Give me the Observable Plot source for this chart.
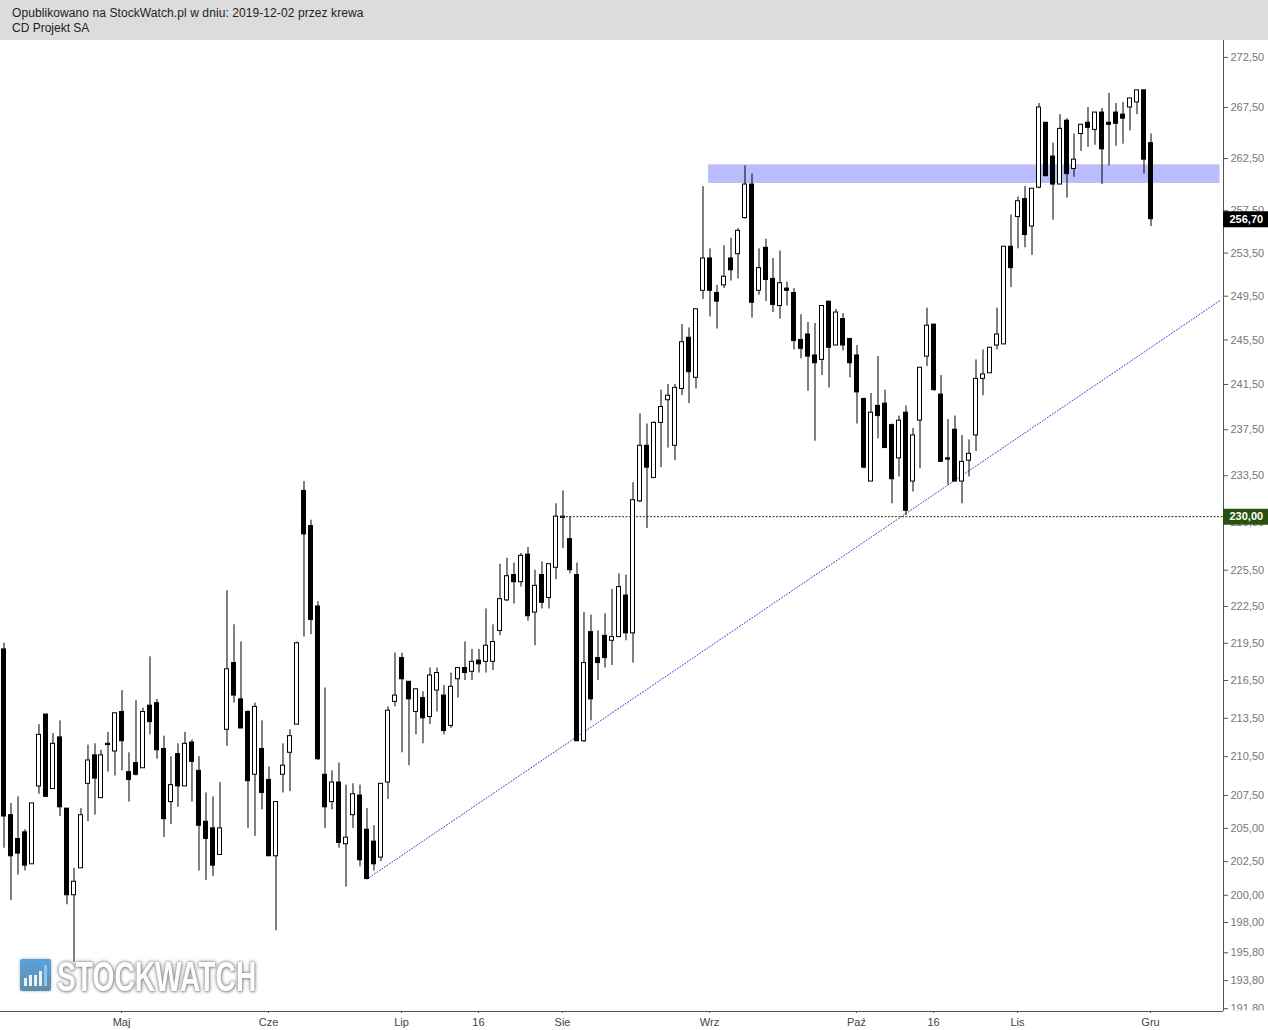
<!DOCTYPE html>
<html lang="pl">
<head>
<meta charset="utf-8">
<script src="https://cdn.jsdelivr.net/npm/d3@7"></script>
<script src="https://cdn.jsdelivr.net/npm/@observablehq/plot@0.6"></script>
<style>
html,body{margin:0;padding:0;background:#fff;overflow:hidden}
#wrap{position:relative;width:1268px;height:1030px;font-family:"Liberation Sans",Arial,sans-serif}
#head{height:40px;background:#dcdcdc;color:#222;font-size:12px;line-height:15px;padding-left:12px;box-sizing:border-box;padding-top:6px}
#head span{letter-spacing:.085px}
#chart svg{display:block}
#logo{position:absolute;left:20px;top:958px;width:240px;height:36px}
#logo .ico{position:absolute;left:0;top:1px;width:31px;height:32px;border-radius:2px;background:linear-gradient(#58a2dc,#5f8ca8);box-shadow:0 0 3px #aaa;filter:blur(.5px);display:flex;align-items:flex-end;justify-content:center;gap:2px;padding-bottom:5px;box-sizing:border-box}
#logo .ico i{display:block;width:3px;background:#e9f2f8}
#logo .txt{position:absolute;left:37px;top:-5px;font:bold 43px/46px "Liberation Sans",Arial,sans-serif;color:#fff;text-shadow:0 0 3px #888,0 0 5px #999,1px 1px 3px #aaa;transform:scaleX(.655);transform-origin:left top;white-space:nowrap;filter:blur(.4px)}
</style>
</head>
<body>
<div id="wrap">
<div id="head"><span>Opublikowano na StockWatch.pl w dniu: 2019-12-02 przez krewa</span><br>CD Projekt SA</div>
<div id="chart"></div>
<div id="logo"><div class="ico"><i style="height:8px"></i><i style="height:11px"></i><i style="height:11px"></i><i style="height:15px"></i><i style="height:21px;background:#8fc4ea"></i></div><div class="txt">STOCKWATCH</div></div>
</div>
<script>
const opens = [219.0,206.0,204.2,204.7,202.3,208.2,213.8,208.0,212.0,206.5,
200.0,202.0,208.4,210.6,207.3,211.5,210.9,214.0,209.3,210.0,
209.6,214.5,214.7,211.1,207.0,210.7,208.2,211.6,209.4,205.5,
205.0,203.0,212.6,217.9,215.0,214.0,209.1,211.1,208.7,202.9,
209.1,210.8,213.0,232.2,229.2,222.5,209.1,207.0,208.5,203.8,
206.0,207.5,204.9,204.0,202.8,208.5,214.8,218.3,216.4,214.0,
215.1,213.6,215.7,215.3,212.9,216.6,217.5,217.2,218.1,218.0,
218.0,220.5,223.0,225.1,224.5,226.8,222.0,225.1,223.2,225.7,
229.9,228.1,225.1,211.7,220.4,218.3,220.1,219.7,220.0,223.4,
220.3,231.3,236.1,233.3,238.1,240.1,236.1,241.1,245.7,242.1,
250.0,253.0,249.8,250.5,253.0,253.4,256.8,260.0,250.0,254.0,
251.1,248.6,250.2,249.8,245.5,246.0,244.1,243.7,249.0,245.0,
247.4,245.6,244.1,240.2,233.0,239.6,239.8,237.9,235.0,239.0,
233.0,238.3,244.0,246.9,240.6,235.0,237.5,233.0,234.8,237.0,
242.0,242.5,245.0,245.1,254.1,256.9,258.6,256.0,259.7,266.0,
262.7,260.0,266.2,261.5,264.9,266.0,265.3,267.0,266.0,267.0,
266.8,267.5,268.0,269.2,264.0];
const closes = [205.9,202.9,203.1,202.2,206.9,212.2,207.4,211.5,206.6,200.0,
201.0,206.0,210.2,208.8,210.6,211.4,213.9,211.7,208.7,209.1,
214.0,213.2,211.0,205.7,208.3,208.2,211.5,210.1,205.2,204.2,
202.2,205.0,217.4,215.3,212.7,208.6,214.4,207.7,202.9,207.0,
209.8,212.1,219.5,228.5,221.4,210.3,206.6,208.5,203.9,204.3,
207.6,202.6,201.2,202.3,208.4,214.1,215.3,216.6,215.0,215.8,
213.5,216.9,217.1,212.5,216.0,217.5,217.1,218.0,217.8,219.3,
219.6,223.1,225.0,224.5,226.7,221.7,224.2,222.8,226.0,230.0,
230.0,225.5,211.7,217.9,215.0,217.9,218.3,220.0,224.1,220.3,
231.4,236.1,234.2,238.1,239.5,240.5,241.2,245.3,242.6,248.3,
253.0,250.0,249.0,251.3,251.9,255.6,260.0,248.9,252.1,251.0,
248.7,250.7,250.0,245.4,244.7,244.0,243.4,248.6,244.8,248.0,
245.0,243.4,240.8,234.2,239.0,238.7,235.9,233.2,238.3,230.5,
237.0,243.0,246.8,241.0,234.7,234.9,233.0,234.7,235.4,242.0,
242.4,244.8,246.0,254.1,252.1,258.4,255.2,259.6,267.5,260.8,
260.0,265.4,261.0,262.4,265.8,265.5,267.0,263.4,265.8,265.9,
266.4,268.4,269.2,262.4,256.7];
const highs = [219.5,206.9,207.4,204.9,206.9,213.0,213.8,212.3,213.3,206.5,
202.0,206.5,211.4,211.5,211.0,212.4,213.9,215.7,210.8,214.9,
214.3,218.4,215.0,212.1,210.5,211.5,212.4,211.8,210.5,207.7,
207.4,208.5,223.8,221.0,219.6,214.1,214.7,213.3,209.7,207.0,
211.5,212.6,219.6,233.0,229.7,222.9,215.9,209.4,210.0,208.3,
208.4,208.3,206.5,205.2,208.4,214.4,218.7,218.7,216.4,215.8,
215.6,217.5,217.5,216.1,217.1,217.5,219.6,219.0,219.0,222.3,
221.0,226.0,226.5,226.1,226.9,227.4,225.5,226.2,226.0,231.1,
232.2,230.0,226.1,222.0,221.8,220.5,221.9,223.9,225.2,225.1,
232.9,238.9,238.0,238.2,241.0,241.5,241.5,246.9,246.6,248.3,
259.8,253.9,250.5,254.2,254.9,255.8,261.8,261.0,253.9,254.8,
253.0,253.7,250.8,250.2,247.8,247.1,247.0,248.6,249.0,248.3,
247.9,245.6,245.0,240.3,240.7,244.0,241.0,238.0,238.7,239.6,
237.6,243.0,248.4,246.9,242.3,238.4,238.7,237.0,236.6,243.7,
244.6,244.8,248.4,254.1,257.1,258.8,259.8,259.6,267.9,266.0,
264.0,266.8,266.4,264.9,265.8,267.5,267.0,267.4,268.9,267.9,
268.0,268.4,269.2,269.2,264.9];
const lows = [203.5,199.6,201.5,201.8,202.3,207.6,207.4,208.0,205.9,199.3,
195.1,202.0,205.5,206.0,207.3,209.3,209.0,209.4,207.0,209.0,
209.6,212.2,210.3,204.3,205.3,206.6,208.2,207.0,201.8,201.1,
201.4,203.0,211.3,214.7,212.7,205.0,204.4,206.4,202.9,197.4,
207.7,207.8,213.0,220.0,220.2,210.2,205.0,206.4,203.5,200.6,
205.0,202.1,201.2,201.8,202.5,207.2,214.4,210.8,209.8,212.2,
211.5,213.0,214.0,212.2,212.7,215.1,216.5,216.5,217.1,217.1,
217.3,220.1,222.9,222.7,224.1,221.3,219.3,222.3,222.3,224.7,
227.3,225.2,211.7,211.6,213.3,216.5,217.5,217.7,220.0,219.7,
217.9,231.2,229.0,233.3,234.2,235.9,234.8,240.5,239.8,241.1,
249.2,247.6,246.5,250.2,250.9,251.1,256.7,247.5,249.6,249.0,
248.0,247.4,248.6,244.6,243.8,240.9,236.5,242.3,241.2,245.0,
244.5,242.1,238.0,234.1,233.0,236.7,235.9,231.1,233.4,230.1,
232.1,234.1,243.1,240.9,234.7,232.7,233.0,231.1,233.4,235.6,
240.5,242.5,244.6,245.1,250.3,253.9,254.0,253.3,259.6,260.8,
256.6,260.0,258.7,260.7,263.2,263.6,263.8,260.0,261.8,263.7,
263.9,265.2,266.8,261.0,256.0];

const yTickValues = [272.5,267.5,262.5,257.5,253.5,249.5,245.5,241.5,237.5,233.5,229.5,225.5,222.5,219.5,216.5,213.5,210.5,207.5,205,202.5,200,198,195.8,193.8,191.8];
const xTickIndex = [17,38,57,68,80,101,122,133,145,164];
const xTickLabels = ["Maj","Cze","Lip","16","Sie","Wrz","Paź","16","Lis","Gru"];

const zone = {start:100.8, end:173.86, low:260.1, high:261.9};
const trend = [{i:52, v:201.2},{i:173.86, v:249.1}];
const support = {start:80, value:230};
const lastPrice = 256.7;
const shiftedSessions = 14; // the first sessions sit one pixel further right in the reference

const slot = i => i < shiftedSessions ? i + 1/7 : i;
const candles = opens.map((o,i)=>({i:slot(i), open:o, close:closes[i], high:highs[i], low:lows[i]}));
const comma = d => d.toFixed(2).replace(".",",");
const halfBody = 2/7;
const axisAt = 174.357, rightEdge = 181;
const GRAY = "#555";

const plot = Plot.plot({
  width:1268, height:990,
  marginLeft:0, marginRight:45, marginTop:0, marginBottom:19,
  style:{background:"#fff", fontFamily:'"Liberation Sans",Arial,sans-serif', fontSize:"11px"},
  x:{type:"linear", domain:[-0.357, axisAt], axis:null},
  y:{type:"log", domain:[191.6, 274.2], axis:null},
  marks:[
    Plot.rect([zone],{x1:"start",x2:"end",y1:"low",y2:"high",fill:"#bbbcfb"}),
    Plot.line(trend,{x:"i",y:"v",stroke:"#3f38d0",strokeWidth:1,strokeDasharray:"1,2"}),
    Plot.ruleY([support.value],{x1:support.start,x2:axisAt,stroke:"#1e3a0c",strokeWidth:1,strokeDasharray:"2,1.5"}),
    Plot.ruleX(candles,{x:"i",y1:"low",y2:"high",stroke:"#000",strokeWidth:1}),
    Plot.rect(candles,{
      x1:d=>d.i-halfBody, x2:d=>d.i+halfBody, y1:"open", y2:"close",
      fill:d=>d.close>=d.open?"#fff":"#000", stroke:"#000", strokeWidth:1
    }),
    Plot.axisY(yTickValues,{anchor:"right",tickSize:4,tickPadding:3,tickFormat:comma,label:null,stroke:GRAY,fill:"#777",fontSize:11}),
    Plot.axisX(xTickIndex,{anchor:"bottom",tickSize:2,tickPadding:5,dx:-0.5,tickFormat:(d)=>xTickLabels[xTickIndex.indexOf(d)],label:null,stroke:GRAY,fill:"#444",fontSize:11}),
    Plot.ruleY([191.6],{x1:axisAt,x2:rightEdge,stroke:"#fff",strokeWidth:18,dy:8}),
    Plot.ruleX([axisAt],{stroke:GRAY,strokeWidth:1}),
    Plot.ruleY([191.6],{stroke:GRAY,strokeWidth:1,x2:axisAt,x1:-0.357}),
    Plot.ruleY([lastPrice],{x1:axisAt,x2:rightEdge,stroke:"#000",strokeWidth:16}),
    Plot.text([lastPrice],{x:axisAt,y:d=>d,text:comma,dx:6,textAnchor:"start",fill:"#fff",fontSize:11,fontWeight:"bold"}),
    Plot.ruleY([support.value],{x1:axisAt,x2:rightEdge,stroke:"#2a5010",strokeWidth:16}),
    Plot.text([support.value],{x:axisAt,y:d=>d,text:comma,dx:6,textAnchor:"start",fill:"#fff",fontSize:11,fontWeight:"bold"})
  ]
});
document.getElementById("chart").appendChild(plot);
</script>
</body>
</html>
